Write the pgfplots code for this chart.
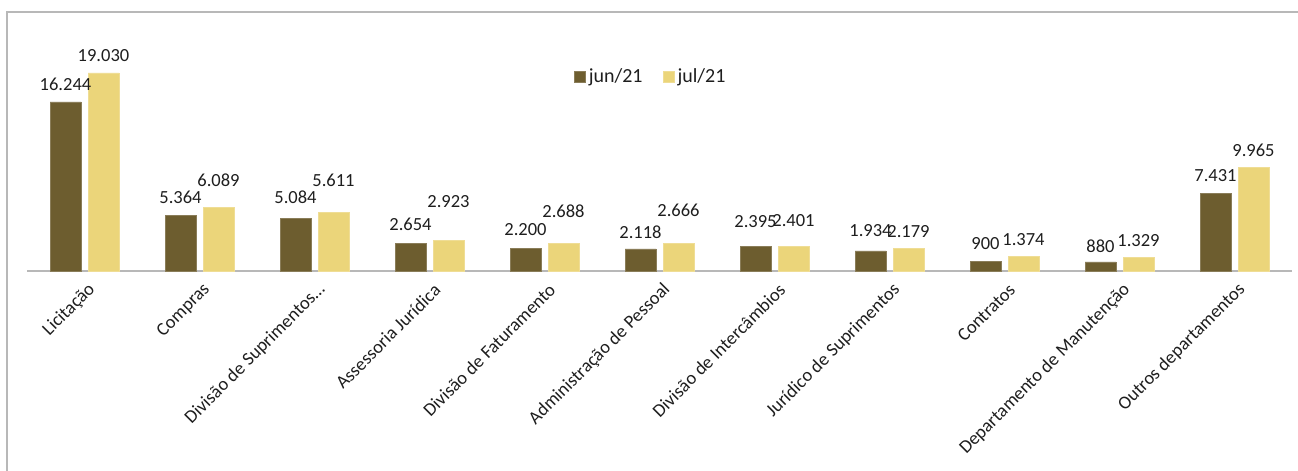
\documentclass[border=0pt]{standalone}
\usepackage{pgfplots}
\pgfplotsset{compat=1.18}
\usepackage{pgfplotstable}
\usepackage{fontspec}
\setmainfont{Carlito}
\definecolor{jun}{HTML}{6D5D2F}
\definecolor{jul}{HTML}{EBD57A}
\definecolor{txt}{HTML}{1E1E1E}
\definecolor{frame}{HTML}{B8B8B8}
\newcommand{\lf}{\fontsize{11.1pt}{13pt}\selectfont}
\newcommand{\gf}{\fontsize{12pt}{14pt}\selectfont}
\pgfplotstableread{
x jun jul junoff juloff
0 16244 19030 18 17.5
1 5364 6089 18 27.6
2 5084 5611 21 32.6
3 2654 2923 19 38.6
4 2200 2688 19 32
5 2118 2666 17 33
6 2395 2401 25 25
7 1934 2179 20 17
8 900 1374 17.6 17
9 880 1329 16 17
10 7431 9965 17.7 17
}\data
\begin{document}
\begin{tikzpicture}[font=\lf, text=txt]
\useasboundingbox (0,0) rectangle (778.8pt,282.6pt);
\draw[frame, line width=1.2pt] (3.9pt,0pt) -- (3.9pt,275.4pt) -- (778.8pt,275.4pt);
\begin{axis}[
  at={(16.2pt,120pt)}, anchor=south west,
  scale only axis, width=759pt, height=138.6pt,
  xmin=-0.5, xmax=10.5, ymin=0, ymax=22200,
  enlarge x limits=false, enlarge y limits=false,
  axis y line=none, axis x line*=bottom,
  x axis line style={-, draw=frame, line width=1pt},
  xtick={0,...,10}, major tick length=0pt,
  xticklabels={Licitação, Compras, Divisão de Suprimentos…, Assessoria Jurídica, Divisão de Faturamento, Administração de Pessoal, Divisão de Intercâmbios, Jurídico de Suprimentos, Contratos, Departamento de Manutenção, Outros departamentos},
  xticklabel style={font=\lf, text=txt, rotate=45, anchor=east, yshift=-10pt, xshift=0pt},
  clip=false,
  bar width=18.6pt,
  /pgf/number format/assume math mode=true,
  /pgf/number format/1000 sep={.},
  nodes near coords,
  legend style={at={(0.4935,0.84)}, anchor=center, draw=none, fill=none, font=\gf, text=txt, legend columns=2, /tikz/every even column/.append style={column sep=10pt}},
  legend image code/.code={\fill[#1] (0pt,-3.3pt) rectangle (6.6pt,3.3pt);},
]
\addplot[ybar, bar shift=-11.4pt, fill=jun, draw=jun!80!white, line width=0.4pt,
  visualization depends on={\thisrow{junoff} \as \off},
  every node near coord/.append style={anchor=center, xshift=-11.4pt, yshift=\off*0.6pt, font=\lf, text=txt}]
  table[x=x, y=jun] {\data};
\addlegendentry{jun/21}
\addplot[ybar, bar shift=11.4pt, fill=jul, draw=jul!80!white, line width=0.4pt,
  visualization depends on={\thisrow{juloff} \as \off},
  every node near coord/.append style={anchor=center, xshift=11.4pt, yshift=\off*0.6pt, font=\lf, text=txt}]
  table[x=x, y=jul] {\data};
\addlegendentry{jul/21}
\end{axis}
\end{tikzpicture}
\end{document}
